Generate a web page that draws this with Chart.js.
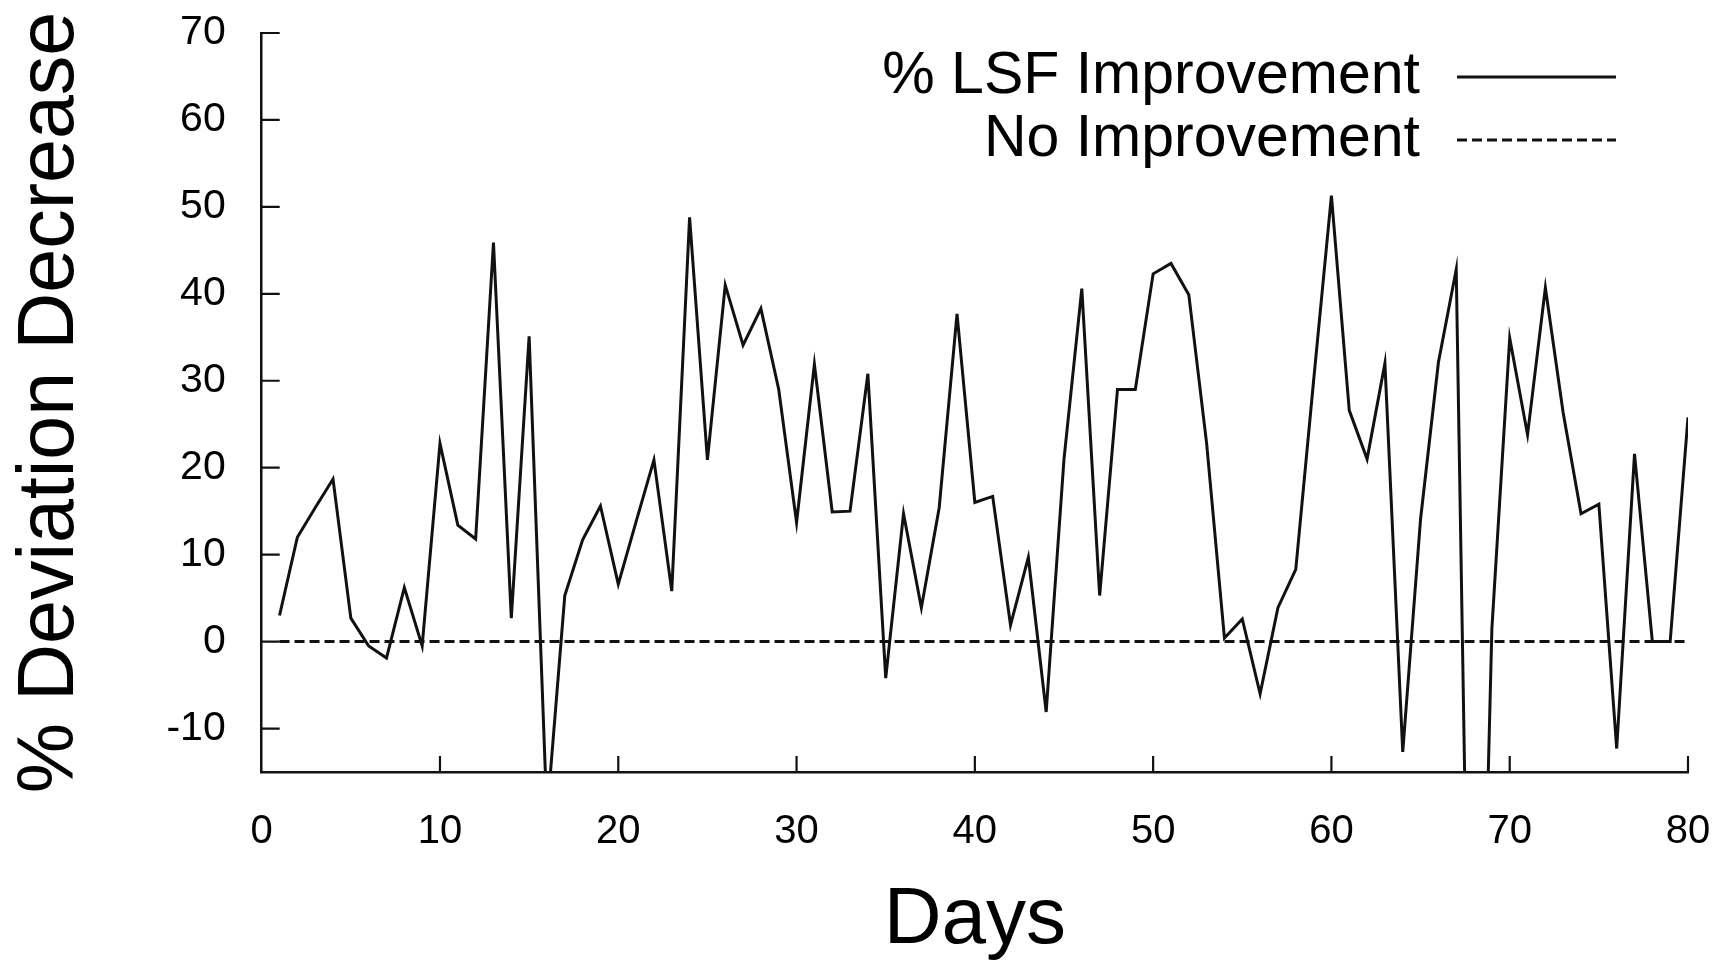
<!DOCTYPE html>
<html>
<head>
<meta charset="utf-8">
<title>% Deviation Decrease by Day</title>
<script src="https://cdn.jsdelivr.net/npm/chart.js@4.4.1/dist/chart.umd.min.js"></script>
<style>
  html, body { margin: 0; padding: 0; background: #fff; }
  #wrap { width: 1724px; height: 965px; }
</style>
</head>
<body>
<div id="wrap"><canvas id="devChart" width="1724" height="965"></canvas></div>
<script>
// Days on the x axis
const days = [
  1, 2, 3, 4, 5, 6, 7, 8, 9, 10,
  11, 12, 13, 14, 15, 16, 17, 18, 19, 20,
  21, 22, 23, 24, 25, 26, 27, 28, 29, 30,
  31, 32, 33, 34, 35, 36, 37, 38, 39, 40,
  41, 42, 43, 44, 45, 46, 47, 48, 49, 50,
  51, 52, 53, 54, 55, 56, 57, 58, 59, 60,
  61, 62, 63, 64, 65, 66, 67, 68, 69, 70,
  71, 72, 73, 74, 75, 76, 77, 78, 79, 80
];

// % LSF improvement per day
const lsfImprovement = [
  3.0, 12.0, 15.4, 18.7, 2.7, -0.5, -1.9, 6.2, -0.5, 22.8,
  13.4, 11.8, 45.9, 2.7, 35.1, -20, 5.3, 11.7, 15.6, 6.6,
  13.8, 20.9, 5.8, 48.8, 20.9, 41.0, 34.1, 38.3, 29.0, 13.7,
  31.9, 14.9, 15.0, 30.8, -4.2, 14.7, 3.9, 15.4, 37.7, 16.0,
  16.7, 1.9, 9.7, -8.1, 21.0, 40.6, 5.3, 29.0, 29.0, 42.3,
  43.5, 39.9, 22.8, 0.4, 2.6, -6.0, 3.9, 8.3, 30.0, 51.3,
  26.6, 21.0, 32.0, -12.7, 14.1, 32.1, 42.8, -80, 1.5, 34.9,
  23.8, 40.7, 26.3, 14.7, 15.8, -12.3, 21.6, 0, 0, 25.8
];

// reference line: no improvement
const baselineDays = [1, 80];
const noImprovement = [0, 0];

const xTicks = [0, 10, 20, 30, 40, 50, 60, 70, 80];
const yTicks = [-10, 0, 10, 20, 30, 40, 50, 60, 70];

const FONT = '"Liberation Sans", Arial, Helvetica, sans-serif';
const INK = '#111';

// tick marks point into the plot, like the original
const inwardTicks = {
  id: 'inwardTicks',
  afterDraw(chart) {
    const { ctx, chartArea, scales } = chart;
    ctx.save();
    ctx.strokeStyle = INK;
    ctx.lineWidth = 2.2;
    ctx.beginPath();
    yTicks.forEach(v => {
      const py = scales.y.getPixelForValue(v);
      ctx.moveTo(chartArea.left, py);
      ctx.lineTo(chartArea.left + 18, py);
    });
    xTicks.forEach(v => {
      if (v === 0) return;
      const px = scales.x.getPixelForValue(v);
      ctx.moveTo(px, chartArea.bottom);
      ctx.lineTo(px, chartArea.bottom - 16);
    });
    ctx.stroke();
    ctx.restore();
  }
};

// key: label text on the left, line sample on the right
const keyRows = [77, 140];
const lineKey = {
  id: 'lineKey',
  afterDraw(chart) {
    const { ctx } = chart;
    ctx.save();
    ctx.font = '59px ' + FONT;
    ctx.textAlign = 'right';
    ctx.textBaseline = 'middle';
    ctx.fillStyle = '#000';
    chart.data.datasets.forEach((ds, i) => {
      const cy = keyRows[i];
      ctx.fillText(ds.label, 1420, cy);
      ctx.setLineDash(ds.borderDash || []);
      ctx.lineWidth = ds.borderWidth;
      ctx.strokeStyle = ds.borderColor;
      ctx.beginPath();
      ctx.moveTo(1457, cy);
      ctx.lineTo(1616, cy);
      ctx.stroke();
    });
    ctx.restore();
  }
};

const devChart = new Chart(document.getElementById('devChart'), {
  type: 'line',
  data: {
    datasets: [
      {
        label: '% LSF Improvement',
        data: days.map((d, i) => ({ x: d, y: lsfImprovement[i] })),
        borderColor: INK,
        borderWidth: 3,
        pointRadius: 0,
        tension: 0,
        clip: 0
      },
      {
        label: 'No Improvement',
        data: baselineDays.map((d, i) => ({ x: d, y: noImprovement[i] })),
        borderColor: INK,
        borderWidth: 3,
        borderDash: [10, 5],
        pointRadius: 0,
        clip: 0
      }
    ]
  },
  options: {
    responsive: false,
    animation: false,
    devicePixelRatio: 1,
    layout: { padding: { top: 33, right: 36, bottom: 0, left: 0 } },
    plugins: {
      legend: { display: false },
      tooltip: { enabled: false }
    },
    scales: {
      x: {
        type: 'linear',
        min: 0,
        max: 80,
        afterBuildTicks: s => { s.ticks = xTicks.map(v => ({ value: v })); },
        afterFit: s => { s.height = 193; s.paddingLeft = 0; s.paddingRight = 0; },
        grid: { display: false, drawTicks: false },
        border: { display: true, color: INK, width: 2.5 },
        ticks: { padding: 36, color: '#000', maxRotation: 0, autoSkip: false, font: { family: FONT, size: 40 } },
        title: { display: true, text: 'Days', color: '#000', padding: { top: 0, bottom: 0 }, font: { family: FONT, size: 80, lineHeight: 1.1 } }
      },
      y: {
        type: 'linear',
        min: -15,
        max: 70,
        afterBuildTicks: s => { s.ticks = yTicks.map(v => ({ value: v })); },
        afterFit: s => { s.width = 261.7; s.paddingTop = 0; s.paddingBottom = 0; },
        grid: { display: false, drawTicks: false },
        border: { display: true, color: INK, width: 2.5 },
        ticks: { padding: 36, color: '#000', autoSkip: false, font: { family: FONT, size: 41 } },
        title: { display: true, text: '% Deviation Decrease', color: '#000', padding: { top: 8, bottom: 0 }, font: { family: FONT, size: 79, lineHeight: 1.1 } }
      }
    }
  },
  plugins: [inwardTicks, lineKey]
});
</script>
</body>
</html>
